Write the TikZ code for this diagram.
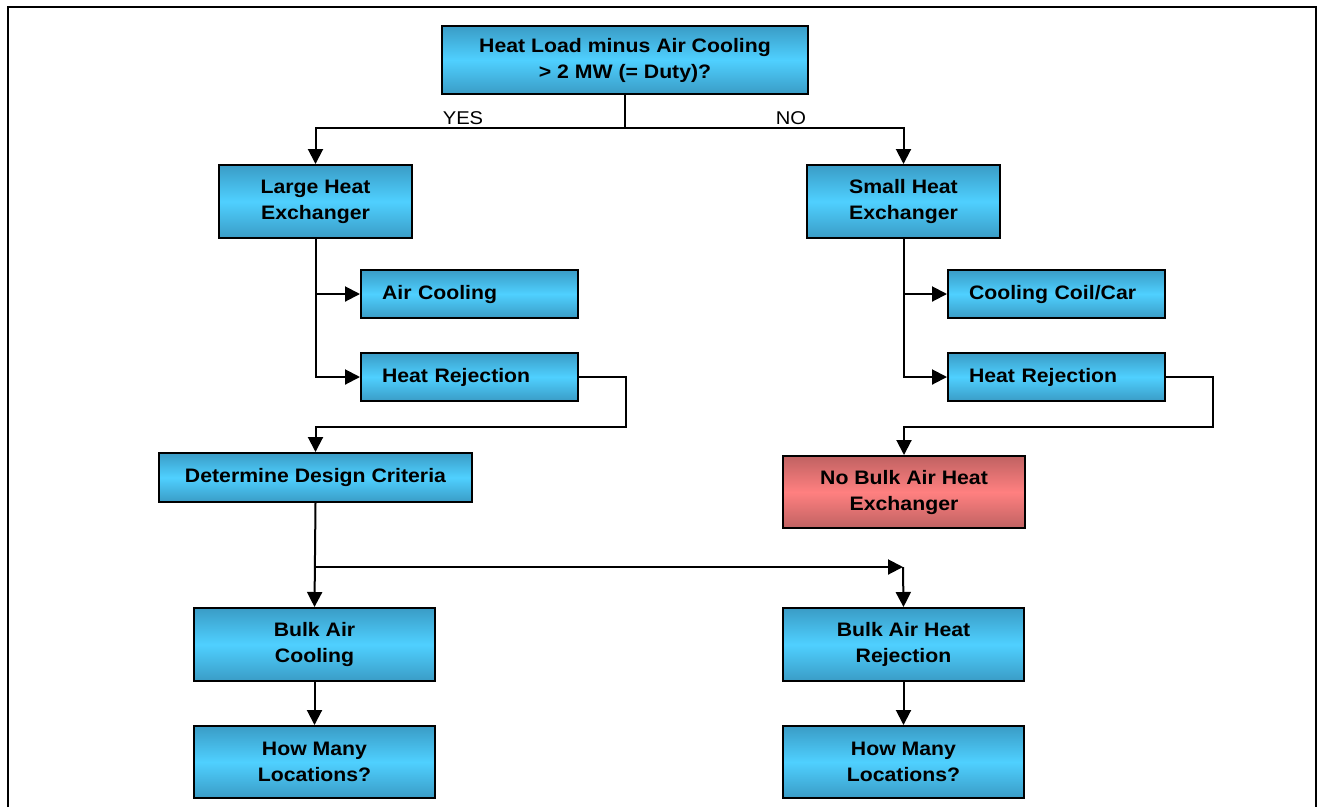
\documentclass[tikz,border=0pt]{standalone}
\usepackage{fontspec}
\setmainfont{Liberation Sans}[FakeStretch=1.09]
\usetikzlibrary{arrows.meta,calc}
\definecolor{cyanEdge}{HTML}{3A9CC6}
\definecolor{cyanMid}{HTML}{4FD0FF}
\definecolor{redEdge}{HTML}{C06262}
\definecolor{redMid}{HTML}{FF8080}
\tikzset{
  box/.style={draw=black, line width=2pt, rectangle, inner sep=0pt,
    top color=cyanEdge, bottom color=cyanEdge, middle color=cyanMid,
    font=\fontsize{19.5}{26}\selectfont\bfseries, align=center},
  redbox/.style={box, top color=redEdge, bottom color=redEdge, middle color=redMid},
  leftbox/.style={box, align=left, text width=175pt, inner xsep=21pt, minimum width=217pt, minimum height=48pt},
  arr/.style={line width=2pt, -{Triangle[length=15pt,width=15pt]}},
  conn/.style={line width=2pt},
  lbl/.style={font=\fontsize{18.5}{22}\selectfont, inner sep=0pt}
}
\begin{document}
\begin{tikzpicture}[x=1pt,y=-1pt]
\useasboundingbox (0,0) rectangle (1325,807);
\draw[line width=2.5pt] (8,807) -- (8,7) -- (1316,7) -- (1316,807);

\node[box, minimum width=366pt, minimum height=68pt] (q) at (625,60) {Heat Load minus Air Cooling\\> 2 MW (= Duty)?};
\node[box, minimum width=193pt, minimum height=73pt] (lhx) at (315.5,201.5) {Large Heat\\Exchanger};
\node[box, minimum width=193pt, minimum height=73pt] (shx) at (903.5,201.5) {Small Heat\\Exchanger};
\node[leftbox] (ac) at (469.5,294) {Air Cooling};
\node[leftbox] (hrl) at (469.5,377) {Heat Rejection};
\node[leftbox] (cc) at (1056.5,294) {Cooling Coil/Car};
\node[leftbox] (hrr) at (1056.5,377) {Heat Rejection};
\node[box, minimum width=313pt, minimum height=49pt] (det) at (315.5,477.5) {Determine Design Criteria};
\node[redbox, minimum width=242pt, minimum height=72pt] (nb) at (904,492) {No Bulk Air Heat\\Exchanger};
\node[box, minimum width=241pt, minimum height=73pt] (bac) at (314.5,644.5) {Bulk Air\\Cooling};
\node[box, minimum width=241pt, minimum height=73pt] (bahr) at (903.5,644.5) {Bulk Air Heat\\Rejection};
\node[box, minimum width=241pt, minimum height=72pt] (hml) at (314.5,762) {How Many\\Locations?};
\node[box, minimum width=241pt, minimum height=72pt] (hmr) at (903.5,762) {How Many\\Locations?};

\node[lbl] (yes) at (463,118) {YES};
\node[lbl] (no) at (791,118) {NO};

\coordinate (qj) at (625,128);
\coordinate (c1) at (626,427);
\coordinate (c2) at (1213,427);
\coordinate (j1) at (315,567);
\coordinate (j2) at (903,567);

\draw[conn] (q.south) -- (qj);
\draw[arr] (qj) -| (lhx.north);
\draw[arr] (qj) -| (shx.north);
\draw[arr] (lhx.south) |- (ac.west);
\draw[arr] (lhx.south) |- (hrl.west);
\draw[arr] (shx.south) |- (cc.west);
\draw[arr] (shx.south) |- (hrr.west);
\draw[arr] (hrl.east) -| (c1) -| (det.north);
\draw[arr] (hrr.east) -| (c2) -| (nb.north);
\draw[arr] (det.south) -- (bac.north);
\draw[arr] (j1) -- (j2);
\draw[arr] (j2) -- (bahr.north);
\draw[arr] (bac.south) -- (hml.north);
\draw[arr] (bahr.south) -- (hmr.north);
\end{tikzpicture}
\end{document}
